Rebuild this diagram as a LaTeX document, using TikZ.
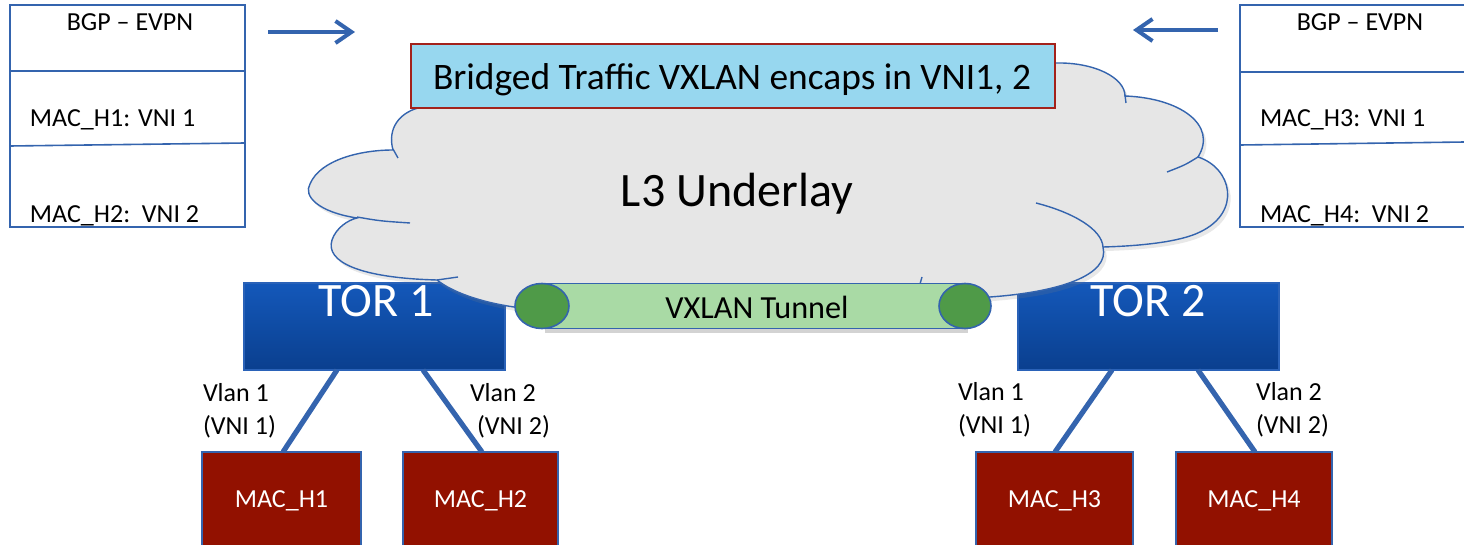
\documentclass[tikz,border=0pt]{standalone}
\usepackage{fontspec}
\setmainfont{Carlito}
\usetikzlibrary{calc,arrows.meta,shapes.geometric,shadows}
\definecolor{lineblue}{HTML}{3464AE}
\definecolor{cloudgrey}{HTML}{E6E6E6}
\definecolor{bridgefill}{HTML}{97D7EF}
\definecolor{bridgedraw}{HTML}{A3221B}
\definecolor{tunfill}{HTML}{A9DAA5}
\definecolor{tunend}{HTML}{4F9A48}
\definecolor{macfill}{HTML}{921100}
\definecolor{tortop}{HTML}{1458BA}
\definecolor{torbot}{HTML}{0A3F8E}
\definecolor{torborder}{HTML}{2A62B8}
\tikzset{
  plainbox/.style={inner sep=0pt, outer sep=0pt, anchor=north west},
  tablebox/.style={plainbox, draw=lineblue, line width=0.8pt},
  tableline/.style={draw=lineblue, line width=0.8pt},
  bridgebox/.style={plainbox, draw=bridgedraw, fill=bridgefill, line width=0.8pt},
  torbox/.style={plainbox, draw=torborder, line width=0.6pt, top color=tortop, bottom color=torbot},
  macbox/.style={plainbox, draw=lineblue, fill=macfill, line width=0.8pt},
  tunbody/.style={plainbox, draw=lineblue, fill=tunfill, line width=0.8pt},
  tunend/.style={ellipse, draw=lineblue, fill=tunend, line width=0.8pt, inner sep=0pt, outer sep=0pt},
  cloudline/.style={draw=lineblue, line width=0.7pt},
  link/.style={draw=lineblue, line width=2.6pt},
  bgparrow/.style={draw=lineblue, line width=2pt, -{Straight Barb[length=8pt,width=11pt]}},
  smalltext/.style={font=\fontsize{13}{15}\selectfont, inner sep=0pt, outer sep=0pt},
  midtext/.style={font=\fontsize{18.7}{22}\selectfont, inner sep=0pt, outer sep=0pt},
  bigtext/.style={font=\fontsize{24}{28}\selectfont, inner sep=0pt, outer sep=0pt},
}
\begin{document}
\begin{tikzpicture}[x=0.5pt,y=-0.5pt]
\useasboundingbox (0,0) rectangle (1464,545);
\clip (0,0) rectangle (1464,545);

% ---------- tables ----------
\node[tablebox, minimum width=117.5pt, minimum height=111pt] (tl) at (10,5) {};
\draw[tableline] ($(tl.north west)+(0,66)$) -- ($(tl.north east)+(0,66)$);
\draw[tableline] ($(tl.north west)+(0,141)$) -- ($(tl.north east)+(0,138)$);
\node[smalltext, anchor=base] (tlh) at (130,31) {BGP – EVPN};
\node[smalltext, anchor=base west] (tl1) at (30,127) {MAC\_H1: VNI 1};
\node[smalltext, anchor=base west] (tl2) at (30,223) {MAC\_H2:\ \ VNI 2};

\node[tablebox, minimum width=150pt, minimum height=111pt] (tr) at (1240,5) {};
\draw[tableline] ($(tr.north west)+(0,67)$) -- ($(tr.north east)+(0,67)$);
\draw[tableline] ($(tr.north west)+(0,140)$) -- ($(tr.north east)+(0,136)$);
\node[smalltext, anchor=base] (trh) at (1360,31) {BGP – EVPN};
\node[smalltext, anchor=base west] (tr1) at (1260,127) {MAC\_H3: VNI 1};
\node[smalltext, anchor=base west] (tr2) at (1260,223) {MAC\_H4:\ \ VNI 2};

% ---------- arrows ----------
\coordinate (la1) at (268,32);
\coordinate (la2) at (355,32);
\coordinate (ra1) at (1218,30);
\coordinate (ra2) at (1133,30);
\draw[bgparrow] (la1) -- (la2);
\draw[bgparrow] (ra1) -- (ra2);

% ---------- TOR boxes ----------
\node[torbox, minimum width=130.5pt, minimum height=43.5pt] (tor1) at (244,283) {};
\node[torbox, minimum width=130.5pt, minimum height=43.5pt] (tor2) at (1018,283) {};

% ---------- cloud ----------
\path[cloudline, fill=cloudgrey, drop shadow={opacity=0.18, shadow xshift=1.5pt, shadow yshift=-2pt}]
  (418,108) -- (1055,63)
  .. controls (1095,62) and (1125,78) .. (1125,96)
  .. controls (1180,98) and (1218,125) .. (1198,157)
  .. controls (1232,168) and (1242,212) .. (1200,232)
  .. controls (1180,242) and (1140,246) .. (1103,247)
  .. controls (1110,275) and (1060,292) .. (990,297)
  .. controls (900,325) and (620,325) .. (514,307)
  .. controls (480,302) and (452,292) .. (437,280)
  .. controls (360,278) and (325,262) .. (332,240)
  .. controls (336,228) and (348,220) .. (357,218)
  .. controls (318,212) and (303,196) .. (310,184)
  .. controls (320,160) and (360,150) .. (393,150)
  .. controls (387,128) and (400,113) .. (418,108) -- cycle;
\draw[cloudline] (393,149) -- (398,158);
\draw[cloudline] (357,217) .. controls (380,221) .. (410,223);
\draw[cloudline] (437,280) .. controls (447,278) .. (458,277);
\draw[cloudline] (922,277) -- (920,284);
\draw[cloudline] (1125,95) -- (1126,103);
\draw[cloudline] (1198,157) .. controls (1185,165) .. (1167,172);
\draw[cloudline] (1036,203) .. controls (1075,213) and (1102,230) .. (1103,247);

\node[bigtext, anchor=base] (l3) at (737,207) {L3 Underlay};

% ---------- bridged traffic box ----------
\node[bridgebox, minimum width=322pt, minimum height=32pt] (br) at (411,44) {};
\node[midtext, anchor=base] (brt) at (732,90) {Bridged Traffic VXLAN encaps in VNI1, 2};

% ---------- TOR labels ----------
\node[bigtext, anchor=base, text=white] (tor1t) at (376,317) {TOR 1};
\node[bigtext, anchor=base, text=white] (tor2t) at (1148,317) {TOR 2};

% ---------- tunnel ----------
\node[tunbody, minimum width=211.5pt, minimum height=22.5pt,
      drop shadow={opacity=0.35, shadow xshift=1.5pt, shadow yshift=-2.5pt}] (tun) at (542,283.5) {};
\node[tunend, minimum width=27pt, minimum height=22.5pt] (tunl) at (542,306) {};
\node[tunend, minimum width=26pt, minimum height=22.5pt] (tunr) at (965,306) {};
\node[font=\fontsize{16.1}{19}\selectfont, inner sep=0pt, anchor=base] (tunt) at (757,319) {VXLAN Tunnel};

% ---------- MAC hosts ----------
\node[macbox, minimum width=79.5pt, minimum height=56pt] (h1) at (202,452) {};
\node[macbox, minimum width=77.5pt, minimum height=56pt] (h2) at (403,452) {};
\node[macbox, minimum width=78.5pt, minimum height=56pt] (h3) at (976,452) {};
\node[macbox, minimum width=78pt, minimum height=56pt] (h4) at (1176,452) {};
\node[smalltext, anchor=base, text=white] (h1t) at (281.5,508) {MAC\_H1};
\node[smalltext, anchor=base, text=white] (h2t) at (480.5,508) {MAC\_H2};
\node[smalltext, anchor=base, text=white] (h3t) at (1054.5,508) {MAC\_H3};
\node[smalltext, anchor=base, text=white] (h4t) at (1254,508) {MAC\_H4};

% ---------- links ----------
\draw[link] ($(tor1.south west)+(93,0)$) -- ($(h1.north west)+(81,0)$);
\draw[link] ($(tor1.south west)+(179,0)$) -- ($(h2.north west)+(79,0)$);
\draw[link] ($(tor2.south west)+(94,0)$) -- ($(h3.north west)+(79,0)$);
\draw[link] ($(tor2.south west)+(180,0)$) -- ($(h4.north west)+(79,0)$);

% ---------- VLAN labels ----------
\node[smalltext, anchor=base west] (v11) at (203,402) {Vlan 1};
\node[smalltext, anchor=base west] (v12) at (203,435) {(VNI 1)};
\node[smalltext, anchor=base west] (v21) at (470,402) {Vlan 2};
\node[smalltext, anchor=base west] (v22) at (477,435) {(VNI 2)};
\node[smalltext, anchor=base west] (v31) at (958,401) {Vlan 1};
\node[smalltext, anchor=base west] (v32) at (958,434) {(VNI 1)};
\node[smalltext, anchor=base west] (v41) at (1256,401) {Vlan 2};
\node[smalltext, anchor=base west] (v42) at (1256,434) {(VNI 2)};
\end{tikzpicture}
\end{document}
